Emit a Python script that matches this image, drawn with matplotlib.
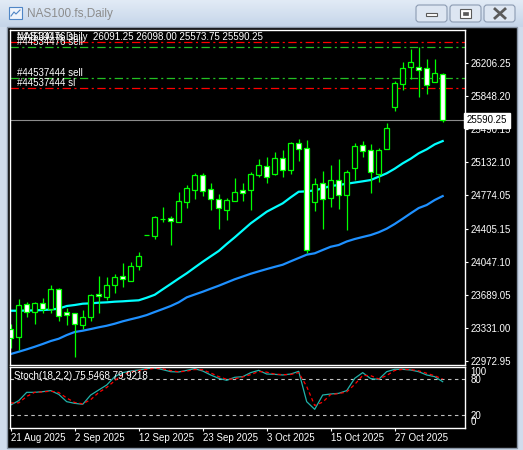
import matplotlib
matplotlib.use('Agg')
import matplotlib.pyplot as plt
import matplotlib.transforms as mtransforms
from matplotlib.patches import Rectangle, FancyBboxPatch
from matplotlib.colors import LinearSegmentedColormap
import numpy as np

plt.rcParams['font.family'] = ['Liberation Sans', 'DejaVu Sans']
plt.rcParams['lines.scale_dashes'] = False

# daily candles, NAS100.fs
opens = [23320, 23233, 23591, 23504, 23602, 23540, 23754, 23504, 23494, 23370,
         23450, 23703, 23667, 23797, 23895, 23847, 24010, 24340, 24336, 24518,
         24524, 24488, 24705, 24835, 24991, 24839, 24737, 24618, 24715, 24832,
         24835, 24998, 25089, 25008, 25175, 25045, 25338, 25284, 24705, 24904,
         24748, 24937, 24783, 25073, 25317, 25262, 25002, 25273, 25729, 25978,
         26163, 26169, 26152, 26000, 26091.25]
highs = [23378, 23646, 23613, 23613, 23656, 23801, 23765, 23548, 23500, 23526,
         23703, 23898, 23887, 23920, 24039, 24047, 24159, 24340, 24549, 24647,
         24549, 24810, 24883, 25016, 25016, 24904, 24788, 24745, 24962, 24904,
         25030, 25165, 25186, 25240, 25266, 25349, 25382, 25374, 24962, 25034,
         25103, 25168, 25048, 25338, 25360, 25327, 25284, 25555, 26011, 26224,
         26358, 26380, 26250, 26250, 26098.00]
lows = [23120, 23095, 23450, 23374, 23494, 23494, 23407, 23370, 23023, 23320,
        23407, 23500, 23638, 23711, 23782, 23847, 23967, 24340, 24303, 24488,
        24235, 24488, 24636, 24734, 24766, 24615, 24408, 24506, 24715, 24715,
        24615, 24976, 24911, 24994, 24973, 25008, 25149, 24151, 24607, 24412,
        24650, 24629, 24401, 24940, 25193, 24796, 24922, 25273, 25685, 25920,
        26033, 25837, 25870, 26000, 25573.75]
closes = [23222, 23580, 23504, 23602, 23540, 23754, 23464, 23472, 23378, 23450,
          23689, 23678, 23797, 23884, 23863, 24004, 24112, 24340, 24535, 24522,
          24492, 24709, 24850, 24991, 24824, 24737, 24633, 24723, 24807, 24802,
          25005, 25100, 24969, 25175, 25045, 25338, 25273, 24177, 24893, 24737,
          24937, 24780, 25024, 25306, 25251, 25024, 25262, 25501, 25989, 26152,
          26217, 26130, 25968, 26098, 25590.25]

# moving averages
ma_fast = [23522, 23522, 23524, 23526, 23529, 23535, 23544, 23573, 23584, 23598,
           23602, 23609, 23613, 23620, 23624, 23630, 23635, 23663, 23695, 23754,
           23812, 23871, 23928, 23991, 24053, 24112, 24170, 24246, 24318, 24394,
           24470, 24533, 24596, 24642, 24687, 24752, 24813, 24817, 24828, 24850,
           24875, 24886, 24900, 24913, 24926, 24940, 24976, 25013, 25063, 25121,
           25171, 25230, 25273, 25327, 25363]
ma_slow = [23052, 23077, 23103, 23131, 23161, 23193, 23218, 23258, 23291, 23305,
           23323, 23342, 23359, 23381, 23407, 23429, 23450, 23475, 23508, 23540,
           23573, 23613, 23667, 23698, 23728, 23761, 23793, 23828, 23863, 23893,
           23923, 23949, 23974, 23998, 24021, 24058, 24094, 24130, 24145, 24181,
           24216, 24235, 24273, 24300, 24322, 24343, 24373, 24412, 24463, 24520,
           24579, 24636, 24669, 24723, 24766]

# Stoch(18,2,2)
stoch_main = [36.7, 43.9, 57.8, 57.8, 58.9, 60.6, 54.4, 42.2, 39.4, 37.8,
              53.3, 61.7, 70.0, 83.9, 90.6, 93.3, 95.0, 97.2, 98.3, 95.6,
              92.2, 91.7, 94.4, 97.2, 93.3, 86.7, 81.1, 77.8, 82.8, 83.9,
              90.6, 94.4, 88.3, 87.8, 86.7, 88.3, 92.8, 42.2, 29.4, 53.3,
              55.0, 56.1, 60.6, 81.1, 90.6, 80.6, 79.4, 92.2, 96.1, 96.1,
              95.0, 92.2, 86.7, 83.9, 75.5]
stoch_signal = [40.0, 40.3, 50.9, 57.8, 58.4, 59.8, 57.5, 48.3, 40.8, 38.6,
                45.6, 57.5, 65.9, 77.0, 87.3, 92.0, 94.2, 96.1, 97.8, 97.0,
                93.9, 92.0, 93.1, 95.8, 95.3, 90.0, 83.9, 79.5, 80.3, 83.4,
                87.3, 92.5, 91.4, 88.1, 87.3, 87.5, 90.6, 67.5, 35.8, 41.4,
                54.2, 55.6, 58.4, 70.9, 85.9, 85.6, 80.0, 85.8, 94.2, 96.1,
                95.6, 93.6, 89.5, 85.3, 79.9]

date_pos = [0, 8, 16, 24, 32, 40, 48]
date_labels = ['21 Aug 2025', '2 Sep 2025', '12 Sep 2025', '23 Sep 2025',
               '3 Oct 2025', '15 Oct 2025', '27 Oct 2025']
price_ticks = [22972.95, 23331.00, 23689.05, 24047.10, 24405.15,
               24774.05, 25132.10, 25490.15, 25848.20, 26206.25]

last_price = 25590.25
order_levels = [26434, 26380, 26043, 25935]
order_colors = ['#ff0000', '#22c022', '#22c022', '#ff0000']
order_labels = ['#44534476 sl', '#44534476 sell', '#44537444 sell', '#44537444 sl']

W, H = 523, 450
fig = plt.figure(figsize=(W / 100, H / 100), dpi=100)
fig.patch.set_facecolor('#d0dcec')


def frac(x0, y0, x1, y1):
    return [x0 / W, 1 - y1 / H, (x1 - x0) / W, (y1 - y0) / H]


# window frame
bg = fig.add_axes([0, 0, 1, 1])
tb = LinearSegmentedColormap.from_list('tb', ['#e2ebf6', '#c5d5e9'])
bg.imshow(np.linspace(0, 1, 30)[:, None], cmap=tb, extent=(0, W, 27, 0), aspect='auto')
bg.add_patch(Rectangle((7, 27), 510, 421, fc='black', ec='#8a96a6', lw=1))
for bx in (416, 450, 484):
    bg.add_patch(FancyBboxPatch((bx, 5), 31, 17, boxstyle='round,pad=0,rounding_size=3',
                                fc='#dde6f2', ec='#8c9bb2', lw=0.8))
bg.add_patch(Rectangle((426, 13), 11, 3, fc='white', ec='#5a5a5a', lw=0.8))
bg.add_patch(Rectangle((460, 9), 11, 9, fc='white', ec='#5a5a5a', lw=0.8))
bg.add_patch(Rectangle((463, 12), 5, 3, fc='#5a5a5a', ec='#5a5a5a', lw=0.5))
bg.plot([495, 505], [9, 18], color='#5a5a5a', lw=2)
bg.plot([495, 505], [18, 9], color='#5a5a5a', lw=2)
bg.add_patch(Rectangle((9, 7), 13, 12, fc='#eef4fb', ec='#4f86c6', lw=0.8))
bg.plot([11, 14, 16, 20], [16, 12, 14, 10], color='#4f86c6', lw=0.8)
bg.text(27, 14, 'NAS100.fs,Daily', color='#8c8c8c', fontsize=8.5, va='center')
bg.set_xlim(0, W)
bg.set_ylim(H, 0)
bg.axis('off')

n = len(opens)
x = np.arange(n)

# main chart
ax = fig.add_axes(frac(10, 30, 465, 365))
ax.set_facecolor('black')
for s in ax.spines.values():
    s.set_color('white')
    s.set_linewidth(1)

for lvl, col in zip(order_levels, order_colors):
    ax.axhline(lvl, color=col, lw=0.9, dashes=(6, 2.5, 1.5, 2.5))
ax.axhline(last_price, color='#8c8c8c', lw=0.8)

ax.plot(x, ma_slow, color='#1e90ff', lw=1.6)
ax.plot(x, ma_fast, color='#00ffff', lw=1.6)

for i in range(n):
    o, h, l, c = opens[i], highs[i], lows[i], closes[i]
    ax.vlines(i, l, h, color='#00ff00', lw=0.9)
    fill = 'white' if c < o else 'black'
    ax.add_patch(Rectangle((i - 0.28, min(o, c)), 0.56, abs(c - o),
                           fc=fill, ec='#00ff00', lw=0.9, zorder=3))

ax.set_xlim(-0.09, 56.79)
ax.set_ylim(22933, 26568)
ax.set_xticks([])
ax.yaxis.tick_right()
ax.set_yticks(price_ticks)
ax.set_yticklabels(['%.2f' % v for v in price_ticks])
ax.tick_params(axis='y', colors='white', labelsize=7, length=2.2, width=0.8, pad=2)

blend = mtransforms.blended_transform_factory(ax.transAxes, ax.transData)
ax.text(1.004, last_price, '25590.25', transform=blend, color='black', fontsize=7,
        va='center', ha='left', clip_on=False, zorder=6,
        bbox=dict(boxstyle='square,pad=0.25', fc='white', ec='white'))
for lvl, lab in zip(order_levels, order_labels):
    ax.text(0.0154, lvl, lab, transform=blend, color='white', fontsize=7, va='bottom')
ax.text(0.0154, 0.979, 'NAS100.fs,Daily  26091.25 26098.00 25573.75 25590.25',
        transform=ax.transAxes, color='white', fontsize=7, va='center')

# stochastic
ax2 = fig.add_axes(frac(10, 367, 465, 428))
ax2.set_facecolor('black')
for s in ax2.spines.values():
    s.set_color('white')
    s.set_linewidth(1)
ax2.axhline(80, color='#c0c0c0', lw=0.8, dashes=(2.5, 2.5))
ax2.axhline(20, color='#c0c0c0', lw=0.8, dashes=(2.5, 2.5))
ax2.plot(x, stoch_main, color='#20b2aa', lw=0.9)
ax2.plot(x, stoch_signal, color='#ff0000', lw=0.9, dashes=(2.5, 2))
ax2.set_xlim(-0.09, 56.79)
ax2.set_ylim(-1.7, 100)
ax2.yaxis.tick_right()
ax2.set_yticks([100, 80, 20, 0])
ax2.set_yticklabels(['100', '80', '20', '0'])
ax2.tick_params(axis='y', colors='white', labelsize=7, length=0, pad=4)
ylabs = ax2.get_yticklabels()
ylabs[0].set_va('top')
ylabs[3].set_va('bottom')
ax2.set_xticks(date_pos)
ax2.set_xticklabels(date_labels)
ax2.tick_params(axis='x', colors='white', labelsize=7, length=2.5, width=0.8, pad=1)
for lbl in ax2.get_xticklabels():
    lbl.set_ha('left')
ax2.text(0.0088, 0.857, 'Stoch(18,2,2) 75.5468 79.9218', transform=ax2.transAxes,
         color='white', fontsize=7, va='center')

fig.savefig('out.png', dpi=100, facecolor=fig.get_facecolor())
